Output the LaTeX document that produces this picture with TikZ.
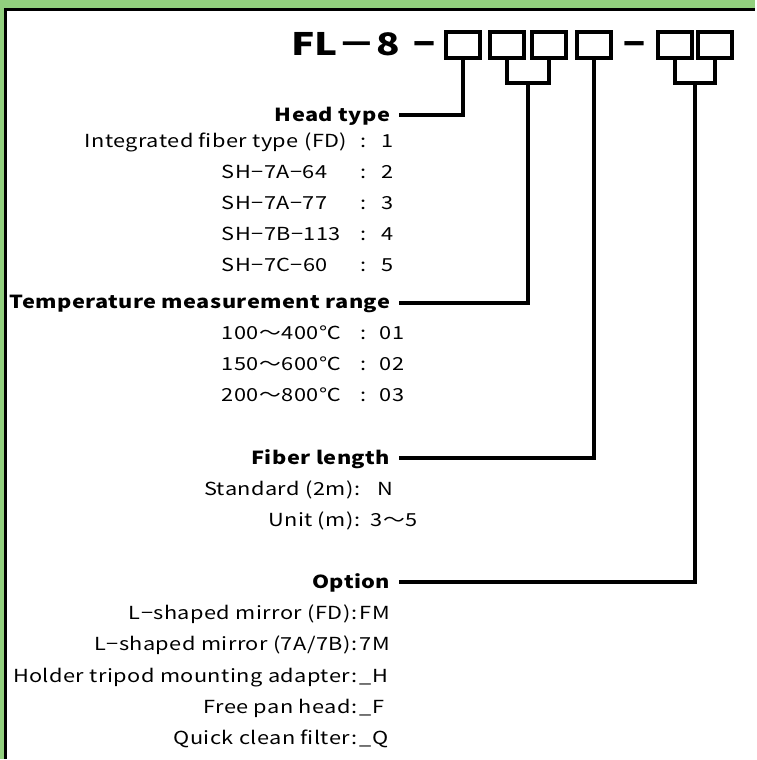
\documentclass[tikz,border=0pt]{standalone}
\usepackage{fontspec}
\setmainfont{Noto Sans CJK JP}[FakeStretch=1.21, LetterSpace=2.5]
\newfontfamily\codefont{Noto Sans CJK JP}[FakeStretch=1.25]
\newfontfamily\dashfont{Noto Sans CJK JP}[FakeStretch=2]
\usepackage{tikz}
\usetikzlibrary{positioning}
\definecolor{framegreen}{RGB}{146,208,126}

\begin{document}
\begin{tikzpicture}[x=1pt, y=-1pt,
    codebox/.style={draw, line width=4pt, minimum width=34pt, minimum height=26pt, inner sep=0pt},
    lead/.style={line width=4pt},
    codedash/.style={anchor=base, inner sep=0pt, font=\dashfont\fontsize{34}{34}\selectfont\bfseries},
    heading/.style={anchor=east, inner xsep=9pt, inner ysep=0pt, text height=13pt, text depth=0pt,
      font=\fontsize{18}{18}\selectfont\bfseries},
    entry/.style={inner sep=0pt, text height=13pt, text depth=0pt, font=\fontsize{18}{18}\selectfont}]
    % frame
    \fill[framegreen] (0,0) rectangle (756,760);
    \fill[white] (5,9) rectangle (756,760);
    \draw[line width=2.5pt] (5.5,760) -- (5.5,9.5) -- (756,9.5);
    \useasboundingbox (0,0) rectangle (756,760);
    % model code
    \node[anchor=base east, inner sep=0pt, font=\codefont\fontsize{31}{31}\selectfont\bfseries] (title) at (401,56) {FL－8};
    \node[codedash] (dash1) at (425.5,54) {-};
    \node[codedash] (dash2) at (636,54) {-};
    \foreach \n/\x in {b1/464, b2/508, b3/550, b4/595, b5/676, b6/716}
      \node[codebox] (\n) at (\x,45) {};
    \coordinate (j23) at (529,83);
    \coordinate (j56) at (696,83);
    % headings
    \node[heading] (head) at (400,115) {Head type};
    \node[heading] (temp) at (400,303) {Temperature measurement range};
    \node[heading] (fiber) at (400,459) {Fiber length};
    \node[heading] (option) at (400,583) {Option};
    % leads
    \draw[lead] (head.east) -| (b1.south);
    \draw[lead] (b2.south) |- (j23) -| (b3.south);
    \draw[lead] (temp.east) -| (j23);
    \draw[lead] (fiber.east) -| (b4.south);
    \draw[lead] (b5.south) |- (j56) -| (b6.south);
    \draw[lead] (option.east) -| (j56);
    % head type
    \node[entry, anchor=east] (hk1) at (348,141) {Integrated fiber type (FD)};
    \node[entry] (hc1) at (364,141) {:};
    \node[entry, anchor=west] (hv1) at (382,141) {1};
    \foreach \y/\key/\val [count=\i from 2] in {172/SH−7A−64/2, 203/SH−7A−77/3, 234/SH−7B−113/4, 265/SH−7C−60/5} {
      \node[entry, anchor=west] (hk\i) at (222,\y) {\key};
      \node[entry] (hc\i) at (364,\y) {:};
      \node[entry, anchor=west] (hv\i) at (382,\y) {\val};
    }
    % temperature range
    \foreach \y/\key/\val [count=\i] in {334/100～400℃/01, 365/150～600℃/02, 396/200～800℃/03} {
      \node[entry, anchor=west] (tk\i) at (222,\y) {\key};
      \node[entry] (tc\i) at (364,\y) {:};
      \node[entry, anchor=west] (tv\i) at (380,\y) {\val};
    }
    % fiber length
    \node[entry, anchor=east] (fk1) at (361,490) {Standard (2m):};
    \node[entry, anchor=west] (fv1) at (378,490) {N};
    \node[entry, anchor=east] (fk2) at (361,521) {Unit (m):};
    \node[entry, anchor=west] (fv2) at (371,521) {3～5};
    % options
    \foreach \y/\key/\val [count=\i] in {614/{L−shaped mirror (FD):}/FM, 645/{L−shaped mirror (7A/7B):}/7M,
        677/{Holder tripod mounting adapter:}/\_H, 708/{Free pan head:}/\_F, 739/{Quick clean filter:}/\_Q} {
      \node[entry, anchor=east] (ok\i) at (358,\y) {\key};
      \node[entry, anchor=west] (ov\i) at (360,\y) {\val};
    }
\end{tikzpicture}
\end{document}
